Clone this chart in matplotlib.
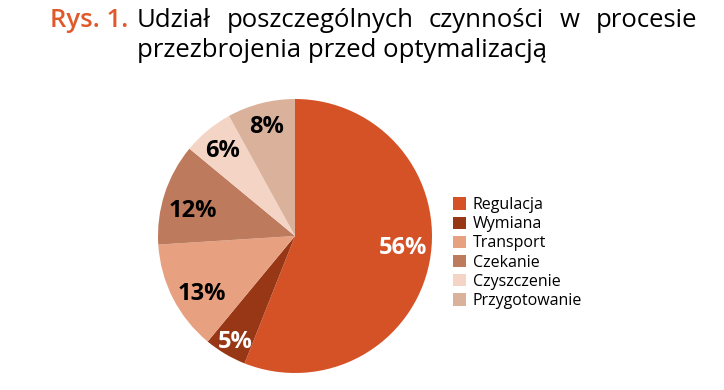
import matplotlib
matplotlib.use('Agg')
import matplotlib.pyplot as plt
import numpy as np
from matplotlib.patches import Patch

plt.rcParams['font.family'] = ['Open Sans', 'DejaVu Sans']

# dane
kategorie = ['Regulacja', 'Wymiana', 'Transport', 'Czekanie', 'Czyszczenie', 'Przygotowanie']
udzialy = [56, 5, 13, 12, 6, 8]
kolory = ['#D55227', '#983716', '#E8A180', '#BE7A5C', '#F4D5C5', '#DAB29B']
kolory_etykiet = ['white', 'white', 'black', 'black', 'black', 'black']
# polozenie etykiet: odleglosc od srodka i przesuniecie kata (stopnie)
odl_etykiet = [0.79, 0.87, 0.79, 0.77, 0.83, 0.84]
kat_etykiet = [6, 0.5, 4, 3, 0, 0]

W, H = 724, 390
fig = plt.figure(figsize=(W / 100, H / 100), dpi=100)

# os wykresu kolowego: srodek (295, 236) px, promien 137 px
cx, cy, r = 295, 236, 137
ax = fig.add_axes([(cx - r) / W, (H - cy - r) / H, 2 * r / W, 2 * r / H])
wedges, _ = ax.pie(udzialy, colors=kolory, startangle=90, counterclock=False,
                   radius=1, wedgeprops=dict(linewidth=0))
ax.set_xlim(-1, 1)
ax.set_ylim(-1, 1)
ax.set_aspect('equal')
ax.axis('off')

for w, v, c, d, dk in zip(wedges, udzialy, kolory_etykiet, odl_etykiet, kat_etykiet):
    kat = np.deg2rad((w.theta1 + w.theta2) / 2 + dk)
    ax.text(d * np.cos(kat), d * np.sin(kat) - 2.5 / r, f'{v}%', ha='center', va='center',
            color=c, fontsize=17, fontweight='bold')

# legenda
uchwyty = [Patch(facecolor=k, edgecolor='none') for k in kolory]
fig.legend(uchwyty, kategorie, loc='upper left', bbox_to_anchor=(453 / W, 1 - 197 / H),
           frameon=False, fontsize=11.5, handlelength=0.8, handleheight=0.8,
           handletextpad=0.45, labelspacing=0.2, borderpad=0, borderaxespad=0)

# tytul (wyjustowany)
fs = 18.5
fig.text(128 / W, 1 - 27 / H, 'Rys. 1.', color='#E0592A', fontsize=fs,
         fontweight='semibold', va='baseline', ha='right')
slowa = ['Udział', 'poszczególnych', 'czynności', 'w', 'procesie']
lewo, prawo = 137, 697
fig.canvas.draw()
rend = fig.canvas.get_renderer()
teksty = [fig.text(0, 1 - 27 / H, s, fontsize=fs, va='baseline', ha='left') for s in slowa]
szer = [t.get_window_extent(rend).width for t in teksty]
odstep = (prawo - lewo - sum(szer)) / (len(slowa) - 1)
x = lewo
for t, s in zip(teksty, szer):
    t.set_x(x / W)
    x += s + odstep
fig.text(lewo / W, 1 - 57 / H, 'przezbrojenia przed optymalizacją', fontsize=fs,
         va='baseline', ha='left')

fig.savefig('out.png', dpi=100)
